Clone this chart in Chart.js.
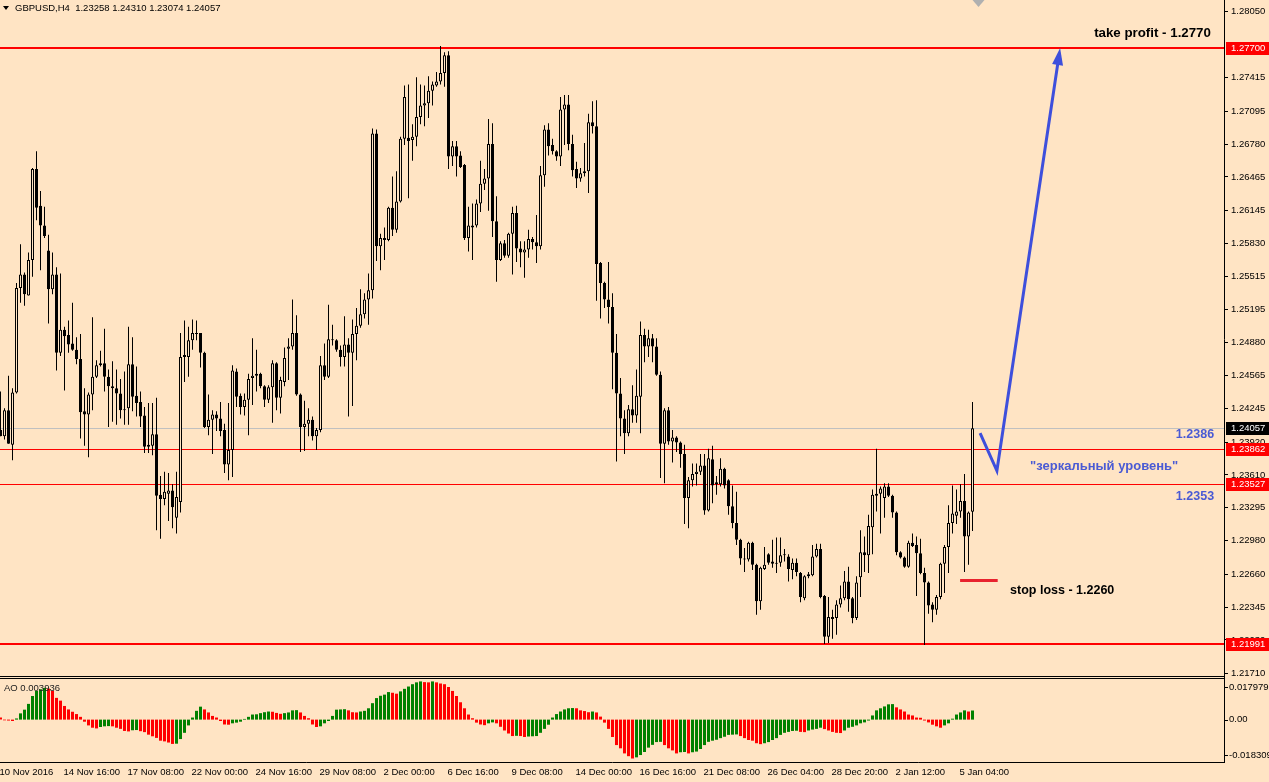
<!DOCTYPE html>
<html>
<head>
<meta charset="utf-8">
<title>GBPUSD,H4</title>
<script src="https://cdn.jsdelivr.net/npm/chart.js@4.4.1/dist/chart.umd.min.js"></script>
<style>
  html, body { margin: 0; padding: 0; background: #ffe4c4; overflow: hidden; }
  #wrap { width: 1269px; height: 782px; }
</style>
</head>
<body>
<div id="wrap"><canvas id="priceChart" width="1269" height="782"></canvas></div>
<script>
// GBPUSD H4 candles, 10 Nov 2016 .. 5 Jan 2017
const opens = [
  1.2404, 1.2398, 1.2423, 1.2390, 1.2440, 1.2540, 1.2553, 1.2533, 1.2567, 1.2654,
  1.2619, 1.2600, 1.2576, 1.2539, 1.2553, 1.2478, 1.2500, 1.2495, 1.2487, 1.2481,
  1.2472, 1.2422, 1.2419, 1.2438, 1.2455, 1.2466, 1.2468, 1.2455, 1.2446, 1.2444,
  1.2439, 1.2424, 1.2425, 1.2467, 1.2437, 1.2431, 1.2418, 1.2388, 1.2389, 1.2400,
  1.2342, 1.2338, 1.2343, 1.2346, 1.2320, 1.2335, 1.2474, 1.2474, 1.2490, 1.2497,
  1.2497, 1.2478, 1.2407, 1.2414, 1.2419, 1.2415, 1.2404, 1.2371, 1.2385, 1.2460,
  1.2437, 1.2426, 1.2433, 1.2454, 1.2456, 1.2458, 1.2446, 1.2433, 1.2445, 1.2468,
  1.2435, 1.2450, 1.2482, 1.2484, 1.2497, 1.2438, 1.2407, 1.2410, 1.2414, 1.2398,
  1.2404, 1.2466, 1.2455, 1.2491, 1.2490, 1.2481, 1.2474, 1.2486, 1.2478, 1.2496,
  1.2504, 1.2515, 1.2529, 1.2538, 1.2688, 1.2580, 1.2588, 1.2586, 1.2617, 1.2596,
  1.2623, 1.2683, 1.2684, 1.2682, 1.2685, 1.2704, 1.2715, 1.2717, 1.2729, 1.2734,
  1.2738, 1.2746, 1.2763, 1.2666, 1.2676, 1.2667, 1.2658, 1.2588, 1.2598, 1.2600,
  1.2621, 1.2640, 1.2645, 1.2678, 1.2604, 1.2567, 1.2583, 1.2571, 1.2592, 1.2612,
  1.2578, 1.2574, 1.2577, 1.2587, 1.2584, 1.2580, 1.2648, 1.2692, 1.2677, 1.2671,
  1.2666, 1.2711, 1.2716, 1.2678, 1.2654, 1.2645, 1.2650, 1.2652, 1.2699, 1.2695,
  1.2564, 1.2545, 1.2529, 1.2522, 1.2478, 1.2439, 1.2415, 1.2401, 1.2424, 1.2418,
  1.2436, 1.2495, 1.2484, 1.2492, 1.2484, 1.2457, 1.2391, 1.2423, 1.2393, 1.2397,
  1.2392, 1.2381, 1.2339, 1.2356, 1.2362, 1.2364, 1.2370, 1.2327, 1.2376, 1.2354,
  1.2352, 1.2367, 1.2356, 1.2331, 1.2315, 1.2299, 1.2281, 1.2280, 1.2296, 1.2275,
  1.2240, 1.2271, 1.2285, 1.2278, 1.2277, 1.2277, 1.2285, 1.2283, 1.2270, 1.2277,
  1.2267, 1.2243, 1.2264, 1.2265, 1.2283, 1.2290, 1.2245, 1.2206, 1.2225, 1.2224,
  1.2237, 1.2243, 1.2259, 1.2243, 1.2224, 1.2263, 1.2287, 1.2284, 1.2311, 1.2341,
  1.2343, 1.2339, 1.2350, 1.2341, 1.2325, 1.2287, 1.2282, 1.2273, 1.2296, 1.2294,
  1.2286, 1.2267, 1.2258, 1.2237, 1.2232, 1.2244, 1.2276, 1.2292, 1.2315, 1.2322,
  1.2326, 1.2336, 1.2302, 1.23258
];
const highs = [
  1.2441, 1.2425, 1.2456, 1.2444, 1.2545, 1.2582, 1.2555, 1.2574, 1.2655, 1.2671,
  1.2633, 1.2618, 1.2591, 1.2574, 1.2560, 1.2554, 1.2503, 1.2509, 1.2526, 1.2493,
  1.2496, 1.2444, 1.2440, 1.2512, 1.2471, 1.2480, 1.2501, 1.2462, 1.2470, 1.2462,
  1.2453, 1.2460, 1.2503, 1.2493, 1.2465, 1.2441, 1.2426, 1.2430, 1.2430, 1.2435,
  1.2360, 1.2364, 1.2363, 1.2352, 1.2364, 1.2497, 1.2509, 1.2503, 1.2510, 1.2509,
  1.2497, 1.2479, 1.2438, 1.2423, 1.2422, 1.2431, 1.2410, 1.2430, 1.2466, 1.2463,
  1.2439, 1.2439, 1.2458, 1.2492, 1.2481, 1.2459, 1.2447, 1.2447, 1.2471, 1.2469,
  1.2455, 1.2483, 1.2492, 1.2529, 1.2514, 1.2439, 1.2432, 1.2425, 1.2417, 1.2406,
  1.2475, 1.2487, 1.2524, 1.2505, 1.2491, 1.2485, 1.2513, 1.2492, 1.2510, 1.2521,
  1.2539, 1.2535, 1.2554, 1.2693, 1.2692, 1.2592, 1.2598, 1.2618, 1.2647, 1.2652,
  1.2685, 1.2734, 1.2735, 1.2697, 1.2742, 1.2735, 1.2734, 1.2743, 1.2738, 1.2747,
  1.2772, 1.2766, 1.2767, 1.2681, 1.2681, 1.2671, 1.2659, 1.2618, 1.2621, 1.2625,
  1.2662, 1.2654, 1.2702, 1.2698, 1.2628, 1.2585, 1.2586, 1.2593, 1.2618, 1.2619,
  1.2585, 1.2585, 1.2596, 1.2589, 1.2610, 1.2657, 1.2696, 1.2698, 1.2683, 1.2672,
  1.2723, 1.2725, 1.2725, 1.2687, 1.2661, 1.2655, 1.2679, 1.2707, 1.2719, 1.2720,
  1.2565, 1.2546, 1.2565, 1.2535, 1.2496, 1.2454, 1.2423, 1.2428, 1.2447, 1.2462,
  1.2508, 1.2501, 1.2500, 1.2496, 1.2492, 1.2460, 1.2425, 1.2426, 1.2404, 1.2398,
  1.2393, 1.2390, 1.2359, 1.2372, 1.2372, 1.2381, 1.2381, 1.2386, 1.2389, 1.2360,
  1.2377, 1.2368, 1.2357, 1.2351, 1.2345, 1.2300, 1.2291, 1.2297, 1.2297, 1.2276,
  1.2273, 1.2292, 1.2286, 1.2299, 1.2301, 1.2301, 1.2290, 1.2285, 1.2281, 1.2281,
  1.2268, 1.2265, 1.2268, 1.2294, 1.2295, 1.2295, 1.2246, 1.2244, 1.2232, 1.2241,
  1.2255, 1.2269, 1.2273, 1.2244, 1.2264, 1.2308, 1.2302, 1.2323, 1.2347, 1.2386,
  1.2350, 1.2353, 1.2353, 1.2342, 1.2326, 1.2288, 1.2283, 1.2298, 1.2305, 1.2302,
  1.2300, 1.2272, 1.2259, 1.2239, 1.2246, 1.2277, 1.2294, 1.2332, 1.2351, 1.2347,
  1.2352, 1.2362, 1.2326, 1.24310
];
const lows = [
  1.2398, 1.2395, 1.2391, 1.2375, 1.2439, 1.2526, 1.2523, 1.2533, 1.2551, 1.2605,
  1.2557, 1.2588, 1.2506, 1.2534, 1.2461, 1.2475, 1.2442, 1.2478, 1.2480, 1.2467,
  1.2396, 1.2389, 1.2378, 1.2423, 1.2454, 1.2465, 1.2441, 1.2407, 1.2412, 1.2409,
  1.2415, 1.2409, 1.2409, 1.2422, 1.2417, 1.2407, 1.2382, 1.2382, 1.2380, 1.2308,
  1.2300, 1.2332, 1.2317, 1.2310, 1.2305, 1.2325, 1.2450, 1.2455, 1.2481, 1.2490,
  1.2464, 1.2406, 1.2399, 1.2381, 1.2403, 1.2398, 1.2363, 1.2356, 1.2359, 1.2426,
  1.2419, 1.2418, 1.2399, 1.2428, 1.2441, 1.2444, 1.2426, 1.2430, 1.2411, 1.2423,
  1.2420, 1.2446, 1.2452, 1.2481, 1.2437, 1.2383, 1.2384, 1.2398, 1.2394, 1.2385,
  1.2402, 1.2452, 1.2454, 1.2485, 1.2479, 1.2465, 1.2465, 1.2417, 1.2427, 1.2471,
  1.2502, 1.2511, 1.2505, 1.2530, 1.2566, 1.2557, 1.2567, 1.2585, 1.2590, 1.2593,
  1.2622, 1.2677, 1.2626, 1.2662, 1.2676, 1.2697, 1.2695, 1.2703, 1.2715, 1.2733,
  1.2735, 1.2733, 1.2654, 1.2657, 1.2647, 1.2655, 1.2586, 1.2575, 1.2567, 1.2598,
  1.2613, 1.2634, 1.2614, 1.2589, 1.2546, 1.2566, 1.2569, 1.2569, 1.2553, 1.2565,
  1.2560, 1.2550, 1.2569, 1.2577, 1.2564, 1.2577, 1.2637, 1.2667, 1.2668, 1.2662,
  1.2657, 1.2677, 1.2672, 1.2647, 1.2636, 1.2642, 1.2647, 1.2631, 1.2688, 1.2528,
  1.2511, 1.2521, 1.2506, 1.2443, 1.2374, 1.2398, 1.2381, 1.2398, 1.2411, 1.2411,
  1.2401, 1.2469, 1.2474, 1.2469, 1.2456, 1.2358, 1.2353, 1.2390, 1.2373, 1.2383,
  1.2368, 1.2314, 1.2310, 1.2350, 1.2351, 1.2361, 1.2323, 1.2326, 1.2334, 1.2342,
  1.2350, 1.2348, 1.2323, 1.2310, 1.2294, 1.2275, 1.2268, 1.2278, 1.2270, 1.2227,
  1.2232, 1.2270, 1.2275, 1.2272, 1.2267, 1.2273, 1.2278, 1.2259, 1.2261, 1.2264,
  1.2239, 1.2241, 1.2262, 1.2264, 1.2282, 1.2243, 1.2199, 1.2200, 1.2204, 1.2208,
  1.2234, 1.2241, 1.2230, 1.2219, 1.2222, 1.2244, 1.2268, 1.2267, 1.2285, 1.2326,
  1.2305, 1.2320, 1.2340, 1.2320, 1.2284, 1.2281, 1.2272, 1.2272, 1.2292, 1.2245,
  1.2266, 1.2198, 1.2228, 1.2220, 1.2227, 1.2242, 1.2248, 1.2267, 1.2305, 1.2314,
  1.2320, 1.2268, 1.2275, 1.23074
];
const closes = [
  1.2398, 1.2423, 1.2391, 1.2440, 1.2540, 1.2553, 1.2534, 1.2567, 1.2654, 1.2617,
  1.2600, 1.2590, 1.2539, 1.2553, 1.2478, 1.2500, 1.2494, 1.2486, 1.2481, 1.2472,
  1.2421, 1.2419, 1.2438, 1.2455, 1.2466, 1.2468, 1.2455, 1.2446, 1.2444, 1.2439,
  1.2423, 1.2423, 1.2467, 1.2436, 1.2430, 1.2417, 1.2388, 1.2390, 1.2400, 1.2341,
  1.2338, 1.2345, 1.2346, 1.2330, 1.2340, 1.2474, 1.2476, 1.2490, 1.2497, 1.2496,
  1.2478, 1.2407, 1.2414, 1.2419, 1.2415, 1.2403, 1.2371, 1.2385, 1.2461, 1.2436,
  1.2426, 1.2433, 1.2453, 1.2456, 1.2458, 1.2446, 1.2433, 1.2445, 1.2468, 1.2435,
  1.2452, 1.2473, 1.2484, 1.2497, 1.2438, 1.2407, 1.2410, 1.2414, 1.2398, 1.2404,
  1.2466, 1.2455, 1.2491, 1.2490, 1.2481, 1.2474, 1.2486, 1.2478, 1.2496, 1.2504,
  1.2515, 1.2529, 1.2538, 1.2688, 1.2580, 1.2588, 1.2586, 1.2617, 1.2596, 1.2623,
  1.2683, 1.2723, 1.2681, 1.2685, 1.2704, 1.2715, 1.2717, 1.2729, 1.2735, 1.2738,
  1.2746, 1.2763, 1.2666, 1.2676, 1.2666, 1.2656, 1.2588, 1.2600, 1.2600, 1.2621,
  1.2640, 1.2645, 1.2678, 1.2604, 1.2567, 1.2583, 1.2571, 1.2592, 1.2612, 1.2578,
  1.2574, 1.2577, 1.2587, 1.2584, 1.2580, 1.2648, 1.2692, 1.2676, 1.2671, 1.2666,
  1.2711, 1.2716, 1.2678, 1.2653, 1.2645, 1.2650, 1.2652, 1.2699, 1.2695, 1.2563,
  1.2545, 1.2529, 1.2522, 1.2478, 1.2439, 1.2415, 1.2401, 1.2424, 1.2418, 1.2437,
  1.2495, 1.2484, 1.2492, 1.2484, 1.2457, 1.2391, 1.2423, 1.2393, 1.2397, 1.2392,
  1.2381, 1.2339, 1.2356, 1.2362, 1.2364, 1.2370, 1.2327, 1.2377, 1.2351, 1.2352,
  1.2367, 1.2351, 1.2331, 1.2315, 1.2299, 1.2281, 1.2280, 1.2296, 1.2275, 1.2240,
  1.2272, 1.2275, 1.2277, 1.2276, 1.2276, 1.2284, 1.2284, 1.2271, 1.2277, 1.2268,
  1.2244, 1.2264, 1.2266, 1.2283, 1.2290, 1.2244, 1.2206, 1.2225, 1.2223, 1.2237,
  1.2243, 1.2259, 1.2242, 1.2224, 1.2258, 1.2287, 1.2284, 1.2312, 1.2342, 1.2343,
  1.2348, 1.2350, 1.2341, 1.2325, 1.2287, 1.2282, 1.2273, 1.2296, 1.2293, 1.2286,
  1.2267, 1.2258, 1.2236, 1.2232, 1.2244, 1.2276, 1.2292, 1.2315, 1.2324, 1.2326,
  1.2336, 1.2302, 1.2325, 1.24057
];
// Awesome Oscillator, one value per candle
const aoValues = [
  0.0009, -0.0003, -0.0004, -0.0006, 0.0005, 0.0027, 0.0043, 0.0068, 0.0102, 0.0124,
  0.0131, 0.0137, 0.0134, 0.0124, 0.0094, 0.0082, 0.0059, 0.0044, 0.0034, 0.0024,
  0.0012, -0.0009, -0.0025, -0.0035, -0.0038, -0.0032, -0.0029, -0.0028, -0.0029, -0.0035,
  -0.0040, -0.0049, -0.0051, -0.0046, -0.0045, -0.0050, -0.0054, -0.0065, -0.0072, -0.0079,
  -0.0091, -0.0094, -0.0099, -0.0105, -0.0104, -0.0084, -0.0057, -0.0025, 0.0009, 0.0038,
  0.0056, 0.0044, 0.0031, 0.0016, 0.0009, -0.0006, -0.0021, -0.0022, -0.0016, -0.0013,
  -0.0009, 0.0003, 0.0012, 0.0022, 0.0023, 0.0028, 0.0032, 0.0035, 0.0034, 0.0029,
  0.0025, 0.0028, 0.0031, 0.0040, 0.0041, 0.0031, 0.0016, 0.0006, -0.0021, -0.0032,
  -0.0029, -0.0016, -0.0006, 0.0016, 0.0043, 0.0044, 0.0045, 0.0040, 0.0032, 0.0031,
  0.0035, 0.0038, 0.0049, 0.0071, 0.0093, 0.0103, 0.0108, 0.0119, 0.0116, 0.0112,
  0.0122, 0.0133, 0.0143, 0.0153, 0.0161, 0.0165, 0.0162, 0.0161, 0.0165, 0.0161,
  0.0156, 0.0153, 0.0141, 0.0124, 0.0102, 0.0075, 0.0049, 0.0022, 0.0006, -0.0013,
  -0.0021, -0.0024, -0.0016, -0.0012, -0.0016, -0.0031, -0.0047, -0.0060, -0.0071, -0.0070,
  -0.0071, -0.0075, -0.0073, -0.0072, -0.0071, -0.0057, -0.0040, -0.0022, 0.0009, 0.0024,
  0.0035, 0.0044, 0.0049, 0.0050, 0.0049, 0.0040, 0.0037, 0.0032, 0.0035, 0.0031,
  0.0013, -0.0013, -0.0040, -0.0075, -0.0110, -0.0124, -0.0146, -0.0158, -0.0168, -0.0163,
  -0.0153, -0.0140, -0.0121, -0.0109, -0.0097, -0.0096, -0.0110, -0.0124, -0.0133, -0.0146,
  -0.0141, -0.0140, -0.0146, -0.0141, -0.0138, -0.0127, -0.0110, -0.0096, -0.0091, -0.0087,
  -0.0080, -0.0074, -0.0066, -0.0065, -0.0064, -0.0071, -0.0080, -0.0088, -0.0091, -0.0102,
  -0.0106, -0.0102, -0.0097, -0.0088, -0.0080, -0.0066, -0.0057, -0.0053, -0.0049, -0.0048,
  -0.0053, -0.0054, -0.0047, -0.0043, -0.0040, -0.0035, -0.0041, -0.0047, -0.0053, -0.0057,
  -0.0058, -0.0047, -0.0035, -0.0031, -0.0025, -0.0016, -0.0012, -0.0004, 0.0018, 0.0040,
  0.0049, 0.0057, 0.0066, 0.0067, 0.0053, 0.0044, 0.0035, 0.0022, 0.0018, 0.0009,
  0.0008, -0.0004, -0.0012, -0.0022, -0.0029, -0.0035, -0.0025, -0.0016, 0.0004, 0.0022,
  0.0031, 0.0040, 0.0035, 0.003936
];

// time axis labels (bar index each label sits on)
const xTickBars = [-1, 15, 31, 47, 63, 79, 95, 111, 127, 143, 159, 175, 191, 207, 223, 239];
const xTickLabels = ['10 Nov 2016', '14 Nov 16:00', '17 Nov 08:00', '22 Nov 00:00', '24 Nov 16:00',
  '29 Nov 08:00', '2 Dec 00:00', '6 Dec 16:00', '9 Dec 08:00', '14 Dec 00:00', '16 Dec 16:00',
  '21 Dec 08:00', '26 Dec 04:00', '28 Dec 20:00', '2 Jan 12:00', '5 Jan 04:00'];
const priceTicks = [1.28050, 1.27415, 1.27095, 1.26780, 1.26465, 1.26145, 1.25830, 1.25515, 1.25195,
  1.24880, 1.24565, 1.24245, 1.23920, 1.23610, 1.23295, 1.22980, 1.22660, 1.22345, 1.22030, 1.21710];
const aoTickLabels = ['0.017979', '0.00', '-0.018309'];

// horizontal levels and drawn objects
const levelPrices = [1.27700, 1.23862, 1.23527, 1.21991];
const bidPrice = 1.24057;
const takeProfit = 1.2770;
const stopLoss = 1.2260;
const mirrorHigh = 1.2386;
const mirrorLow = 1.2353;
const arrowPath = [[244.9, 1.2401], [249.1, 1.2365], [264.9, 1.2770]];
const stopLossBars = [239.9, 249.3];
const quote = { symbol: 'GBPUSD,H4', open: '1.23258', high: '1.24310', low: '1.23074', close: '1.24057' };
const aoLast = '0.003936';

const BG = '#ffe4c4';
const BLUE_TEXT = '#4a5ad4';
const BLUE_ARROW = '#3e4fdc';

function hasFont(name) {
  const c = document.createElement('canvas').getContext('2d');
  c.font = '20px monospace';
  const a = c.measureText('1.23258 GBPUSD Nov').width;
  c.font = '20px "' + name + '", monospace';
  return c.measureText('1.23258 GBPUSD Nov').width !== a;
}
const narrow = hasFont('Liberation Sans Narrow');
const uiFamily = narrow ? '"Liberation Sans Narrow", "Liberation Sans", sans-serif' : '"Liberation Sans", sans-serif';
const uiSize = narrow ? 11 : 9.5;
const uiFont = uiSize + 'px ' + uiFamily;

const idx = opens.map((_, i) => i);
const wickData = idx.map(i => ({ x: i, y: [lows[i], highs[i]] }));
const bodyData = idx.map(i => ({ x: i, y: [opens[i], closes[i]] }));
const bodyFill = idx.map(i => closes[i] >= opens[i] ? BG : '#000000');
const aoData = aoValues.map((v, i) => ({ x: i, y: v }));
const aoColors = aoValues.map((v, i) => i > 0 && v > aoValues[i - 1] ? '#008000' : '#ff0000');

function fixWidth(w) {
  return scale => {
    scale.width = w;
    scale.paddingTop = 0; scale.paddingBottom = 0; scale.paddingLeft = 0; scale.paddingRight = 0;
  };
}

const notes = [
  { text: 'take profit - 1.2770', bar: 302.6, price: takeProfit, dy: -15, align: 'right', font: 'bold 13.3px "Liberation Sans"', color: '#000' },
  { text: '1.2386', bar: 303.4, price: mirrorHigh, dy: -14, align: 'right', font: 'bold 12.5px "Liberation Sans"', color: BLUE_TEXT },
  { text: '"зеркальный уровень"', bar: 275.9, price: (mirrorHigh + mirrorLow) / 2, dy: 0, align: 'center', font: 'bold 13px "Liberation Sans"', color: BLUE_TEXT },
  { text: '1.2353', bar: 303.4, price: mirrorLow, dy: 13, align: 'right', font: 'bold 12.5px "Liberation Sans"', color: BLUE_TEXT },
  { text: 'stop loss - 1.2260', bar: 252.4, price: stopLoss, dy: 10, align: 'left', font: 'bold 12.5px "Liberation Sans"', color: '#000' }
];

const mt4Overlay = {
  id: 'mt4Overlay',
  beforeDraw(chart) {
    const ctx = chart.ctx;
    ctx.save();
    ctx.fillStyle = BG;
    ctx.fillRect(0, 0, chart.width, chart.height);
    ctx.restore();
  },
  beforeDatasetsDraw(chart) {
    const { ctx, chartArea } = chart;
    const y = chart.scales.y;
    ctx.save();
    ctx.beginPath();
    ctx.rect(chartArea.left, y.top, chartArea.right - chartArea.left, y.bottom - y.top);
    ctx.clip();
    const hline = (p, color, w) => {
      const py = Math.round(y.getPixelForValue(p)) + (w % 2 ? 0.5 : 0);
      ctx.strokeStyle = color; ctx.lineWidth = w;
      ctx.beginPath(); ctx.moveTo(chartArea.left, py); ctx.lineTo(chartArea.right, py); ctx.stroke();
    };
    hline(bidPrice, '#c0c0c0', 1);
    const widths = [2, 1, 1, 2];
    levelPrices.forEach((p, i) => hline(p, '#ff0000', widths[i]));
    ctx.restore();
  },
  afterDatasetsDraw(chart) {
    const { ctx, chartArea } = chart;
    const { x, y, ao } = chart.scales;
    ctx.save();

    // panel separators
    ctx.strokeStyle = '#000'; ctx.lineWidth = 1;
    ctx.beginPath();
    ctx.moveTo(chartArea.left, y.bottom - 1.5); ctx.lineTo(chartArea.right, y.bottom - 1.5);
    ctx.moveTo(chartArea.left, ao.top + 0.5); ctx.lineTo(chartArea.right, ao.top + 0.5);
    ctx.stroke();

    // stop loss marker
    const slY = Math.round(y.getPixelForValue(stopLoss));
    ctx.strokeStyle = '#e8222e'; ctx.lineWidth = 3;
    ctx.beginPath();
    ctx.moveTo(x.getPixelForValue(stopLossBars[0]), slY + 0.5);
    ctx.lineTo(x.getPixelForValue(stopLossBars[1]), slY + 0.5);
    ctx.stroke();

    // blue arrow
    const pts = arrowPath.map(([b, p]) => [x.getPixelForValue(b), y.getPixelForValue(p)]);
    const [x1, y1] = pts[pts.length - 2];
    const [x2, y2] = pts[pts.length - 1];
    const ang = Math.atan2(y2 - y1, x2 - x1);
    const headL = 17, headW = 5.5;
    ctx.strokeStyle = BLUE_ARROW; ctx.fillStyle = BLUE_ARROW; ctx.lineWidth = 3;
    ctx.lineJoin = 'miter'; ctx.lineCap = 'butt';
    ctx.beginPath();
    pts.forEach(([px, py], i) => {
      if (i === pts.length - 1) ctx.lineTo(px - 8 * Math.cos(ang), py - 8 * Math.sin(ang));
      else if (i === 0) ctx.moveTo(px, py);
      else ctx.lineTo(px, py);
    });
    ctx.stroke();
    ctx.beginPath();
    ctx.moveTo(x2, y2);
    ctx.lineTo(x2 - headL * Math.cos(ang) + headW * Math.sin(ang), y2 - headL * Math.sin(ang) - headW * Math.cos(ang));
    ctx.lineTo(x2 - headL * Math.cos(ang) - headW * Math.sin(ang), y2 - headL * Math.sin(ang) + headW * Math.cos(ang));
    ctx.closePath(); ctx.fill();

    // text objects
    ctx.textBaseline = 'middle';
    notes.forEach(n => {
      ctx.font = n.font; ctx.fillStyle = n.color; ctx.textAlign = n.align;
      ctx.fillText(n.text, x.getPixelForValue(n.bar), y.getPixelForValue(n.price) + n.dy);
    });

    // chart shift marker
    const sx = Math.round(x.getPixelForValue(244.4)) + 0.5;
    ctx.fillStyle = '#b0b0b0';
    ctx.beginPath(); ctx.moveTo(sx - 6, 0); ctx.lineTo(sx + 6, 0); ctx.lineTo(sx, 7); ctx.closePath(); ctx.fill();

    // header line
    ctx.fillStyle = '#000';
    ctx.beginPath(); ctx.moveTo(3, 6); ctx.lineTo(9, 6); ctx.lineTo(6, 10); ctx.closePath(); ctx.fill();
    ctx.font = uiFont; ctx.textAlign = 'left'; ctx.textBaseline = 'middle';
    ctx.fillText(quote.symbol + '  ' + [quote.open, quote.high, quote.low, quote.close].join(' '), 15, 8);

    // indicator label
    ctx.fillStyle = '#202020';
    ctx.fillText('AO ' + aoLast, 4, ao.top + 10);
    ctx.restore();
  },
  afterDraw(chart) {
    const { ctx } = chart;
    const { y, ao } = chart.scales;
    ctx.save();
    ctx.font = uiFont; ctx.textBaseline = 'middle'; ctx.textAlign = 'left';

    // AO scale labels
    const aoLabelY = [ao.top + 9, ao.getPixelForValue(0), ao.bottom - 7];
    ctx.strokeStyle = '#000'; ctx.lineWidth = 1; ctx.fillStyle = '#000';
    aoLabelY.forEach((py, i) => {
      const ry = Math.round(py) + 0.5;
      ctx.beginPath(); ctx.moveTo(ao.left, ry); ctx.lineTo(ao.left + 4, ry); ctx.stroke();
      ctx.fillText(aoTickLabels[i], ao.left + 5, py);
    });

    // price boxes on the scale
    const boxes = levelPrices.map(p => ({ p, color: '#ff0000' })).concat([{ p: bidPrice, color: '#000000' }]);
    boxes.forEach(b => {
      const py = Math.round(y.getPixelForValue(b.p));
      ctx.fillStyle = b.color;
      ctx.fillRect(y.left + 2, py - 6, chart.width - y.left - 2, 13);
      ctx.fillStyle = '#ffffff';
      ctx.fillText(b.p.toFixed(5), y.left + 7, py + 0.5);
    });
    ctx.restore();
  }
};

const tickFont = { family: uiFamily, size: uiSize };

new Chart(document.getElementById('priceChart'), {
  type: 'bar',
  data: {
    datasets: [
      {
        label: 'bodies', data: bodyData, xAxisID: 'x', yAxisID: 'y', order: 0,
        backgroundColor: bodyFill, borderColor: '#000000', borderWidth: 1, borderSkipped: false,
        barThickness: 3, grouped: false, inflateAmount: 0
      },
      {
        label: 'wicks', data: wickData, xAxisID: 'x', yAxisID: 'y', order: 1,
        backgroundColor: '#000000', borderWidth: 0, barThickness: 1, grouped: false, inflateAmount: 0
      },
      {
        label: 'AO', data: aoData, xAxisID: 'x', yAxisID: 'ao', order: 2,
        backgroundColor: aoColors, borderWidth: 0, barThickness: 3, grouped: false, inflateAmount: 0
      }
    ]
  },
  options: {
    responsive: false,
    animation: false,
    devicePixelRatio: 1,
    events: [],
    layout: { padding: 0 },
    plugins: { legend: { display: false }, tooltip: { enabled: false } },
    scales: {
      x: {
        type: 'linear', position: 'bottom', min: -0.125, max: 305.875, offset: false,
        afterBuildTicks: s => { s.ticks = xTickBars.map(v => ({ value: v })); },
        afterFit: s => { s.height = 20; s.paddingLeft = 0; s.paddingRight = 0; s.paddingTop = 0; s.paddingBottom = 0; },
        ticks: {
          autoSkip: false, maxRotation: 0, minRotation: 0, align: 'start', labelOffset: 3, padding: -3,
          color: '#000', font: tickFont, callback: (v, i) => xTickLabels[i]
        },
        grid: { display: false, offset: false },
        border: { display: true, color: '#000' }
      },
      y: {
        type: 'linear', position: 'right', stack: 'panes', stackWeight: 678,
        min: 1.21665, max: 1.28160,
        afterBuildTicks: s => { s.ticks = priceTicks.map(v => ({ value: v })); },
        afterFit: fixWidth(45),
        ticks: { color: '#000', font: tickFont, padding: 3, callback: v => v.toFixed(5) },
        grid: { drawOnChartArea: false, drawTicks: true, tickLength: 4, color: '#000' },
        border: { display: true, color: '#000' }
      },
      ao: {
        type: 'linear', position: 'right', stack: 'panes', stackWeight: 84,
        min: -0.018309, max: 0.017979,
        afterFit: fixWidth(45),
        ticks: { display: false },
        grid: { display: false },
        border: { display: true, color: '#000' }
      }
    }
  },
  plugins: [mt4Overlay]
});
</script>
</body>
</html>
